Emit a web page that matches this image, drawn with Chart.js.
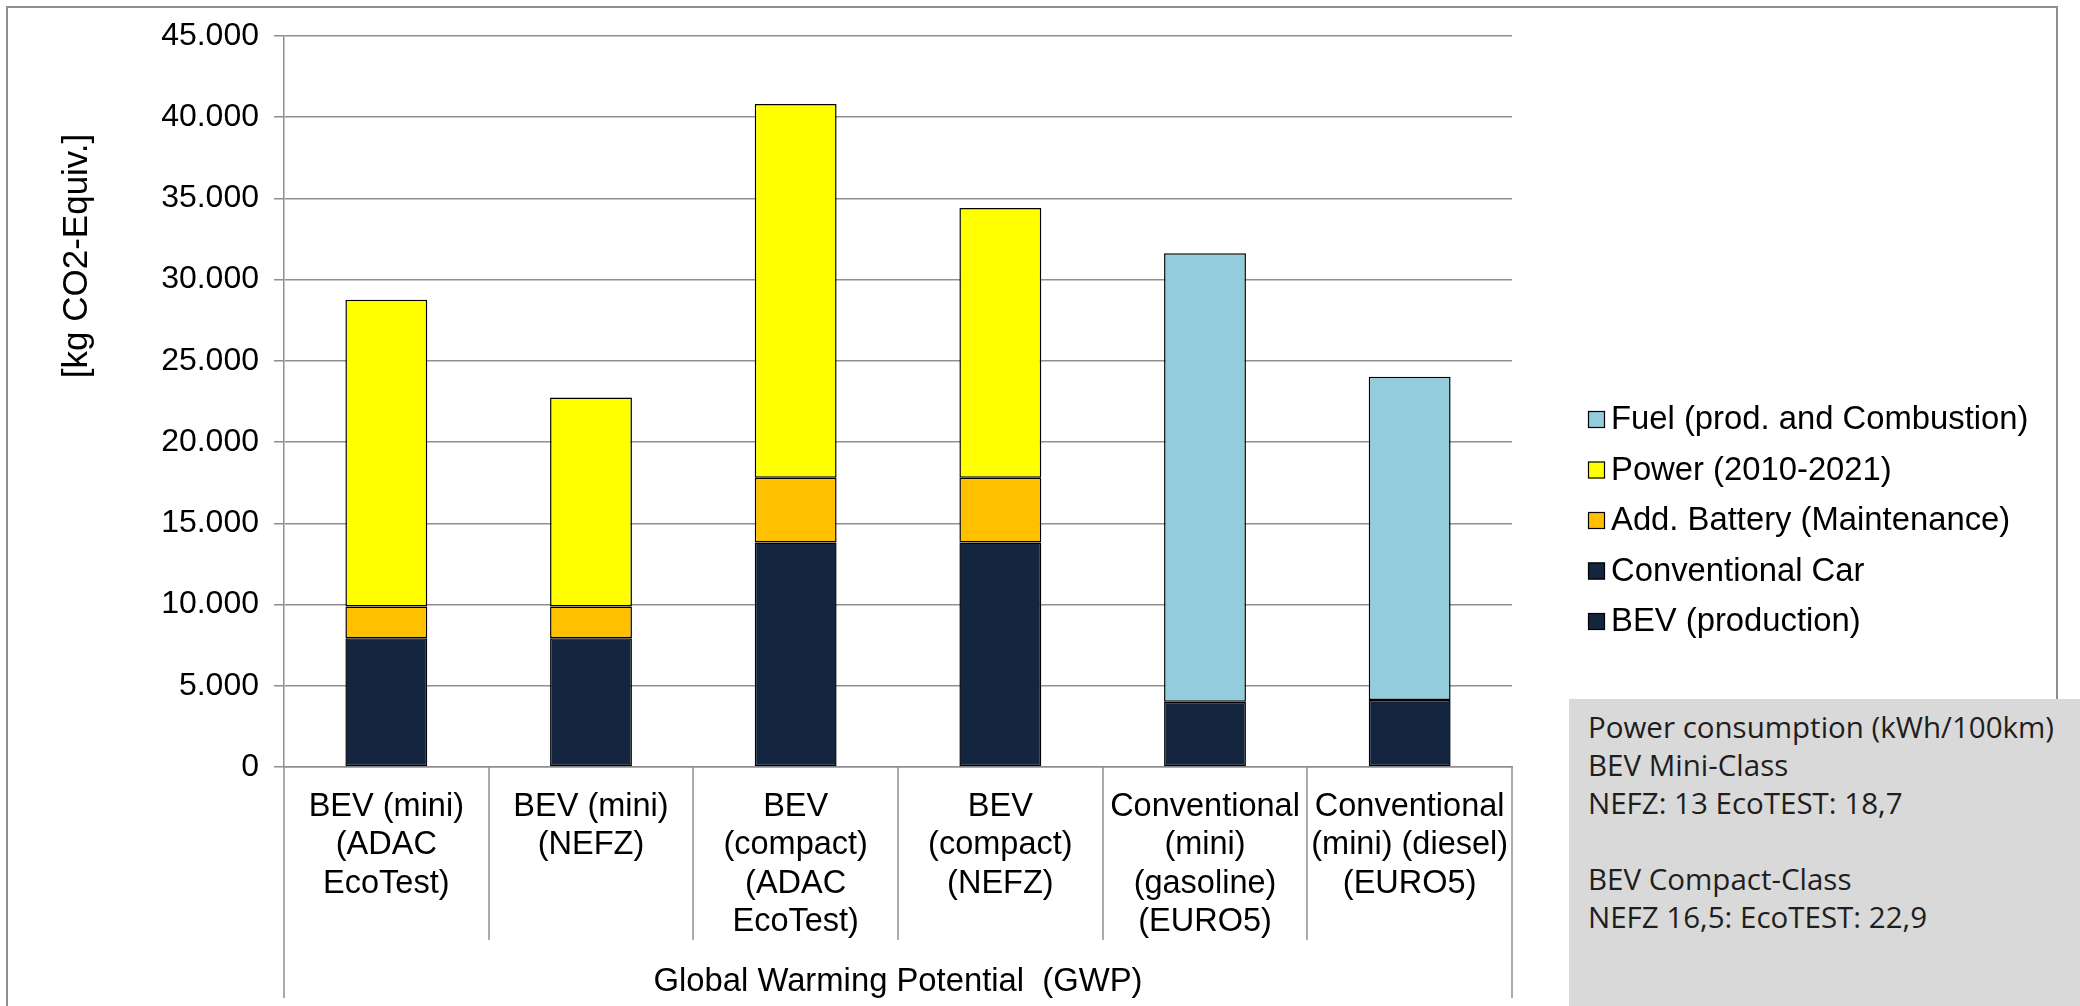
<!DOCTYPE html>
<html>
<head>
<meta charset="utf-8">
<title>GWP</title>
<script src="https://cdn.jsdelivr.net/npm/chart.js@4.4.1/dist/chart.umd.min.js"></script>
<style>
  body { margin: 0; background: #fff; }
  #wrap { position: relative; width: 2080px; height: 1006px; overflow: hidden; }
  #frame { position: absolute; left: 6px; top: 6px; width: 2048px; height: 1100px; border: 2px solid #8f8f8f; }
  #myChart { position: absolute; left: 0; top: 0; }
  #note {
    position: absolute; left: 1569px; top: 699px; width: 511px; height: 307px;
    background: #d9d9d9; box-sizing: border-box; padding: 9px 0 0 19px;
    font-family: 'Open Sans', sans-serif; font-size: 29.5px; line-height: 38px; color: #1e1e1e;
    white-space: pre;
  }
</style>
</head>
<body>
<div id="wrap">
  <div id="frame"></div>
  <canvas id="myChart" width="2080" height="1006"></canvas>
  <div id="note">Power consumption (kWh/100km)
BEV Mini-Class
NEFZ: 13 EcoTEST: 18,7

BEV Compact-Class
NEFZ 16,5: EcoTEST: 22,9</div>
</div>
<script>
// categories (wrapped the same way as the picture)
const categories = [
    ['BEV (mini)', '(ADAC', 'EcoTest)'],
    ['BEV (mini)', '(NEFZ)'],
    ['BEV', '(compact)', '(ADAC', 'EcoTest)'],
    ['BEV', '(compact)', '(NEFZ)'],
    ['Conventional', '(mini)', '(gasoline)', '(EURO5)'],
    ['Conventional', '(mini) (diesel)', '(EURO5)']
]

// series, kg CO2-Equiv.
const bevProduction   = [7930, 7930, 13820, 13820, null, null]
const conventionalCar = [null, null, null, null, 4020, 4120]
const addBattery      = [1950, 1950, 3990, 3990, null, null]
const power           = [18890, 12870, 23010, 16600, null, null]
const fuel            = [null, null, null, null, 27600, 19900]

// y axis
const yMax = 45000
const yStep = 5000
const yTitle = '[kg CO2-Equiv.]'
const xTitle = 'Global Warming Potential  (GWP)'

const navy = '#13253f'
const gridGray = '#8f8f8f'
const labelFont = '"Liberation Sans", Arial, sans-serif'

function dotted(v) {
    return String(v).replace(/\B(?=(\d{3})+(?!\d))/g, '.')
}

// category dividers, y title and the legend on the right
const decorations = {
    id: 'decorations',
    afterDraw(chart) {
        const ctx = chart.ctx
        const area = chart.chartArea
        const xs = chart.scales.x
        const step = (xs.right - xs.left) / categories.length

        ctx.save()
        ctx.strokeStyle = gridGray
        ctx.lineWidth = 1.5
        for (let i = 0; i <= categories.length; i++) {
            const x = Math.round(xs.left + i * step)
            const outer = i === 0 || i === categories.length
            ctx.beginPath()
            ctx.moveTo(x, area.bottom)
            ctx.lineTo(x, area.bottom + (outer ? 231 : 173))
            ctx.stroke()
        }
        ctx.restore()

        ctx.save()
        ctx.fillStyle = '#000'
        ctx.font = '35px ' + labelFont
        ctx.translate(area.left - 207, area.top + 220)
        ctx.rotate(-Math.PI / 2)
        ctx.textAlign = 'center'
        ctx.textBaseline = 'middle'
        ctx.fillText(yTitle, 0, 0)
        ctx.restore()

        ctx.save()
        const sets = chart.data.datasets.slice().reverse()
        let y = area.top + 383
        ctx.font = '32.8px ' + labelFont
        ctx.textBaseline = 'middle'
        sets.forEach(ds => {
            const bx = area.right + 76
            ctx.fillStyle = ds.backgroundColor
            ctx.fillRect(bx, y - 8, 17, 17)
            ctx.strokeStyle = '#000'
            ctx.lineWidth = 1.2
            ctx.strokeRect(bx + 0.5, y - 7.5, 16, 16)
            ctx.fillStyle = '#000'
            ctx.fillText(ds.label, bx + 23, y + 1)
            y += 50.5
        })
        ctx.restore()
    }
}

const ctx = document.querySelector('#myChart').getContext('2d')

let chart = new Chart(ctx, {
    type: 'bar',
    data: {
        labels: categories,
        datasets: [
            { label: 'BEV (production)', data: bevProduction, backgroundColor: navy },
            { label: 'Conventional Car', data: conventionalCar, backgroundColor: navy },
            { label: 'Add. Battery (Maintenance)', data: addBattery, backgroundColor: '#ffc000' },
            { label: 'Power (2010-2021)', data: power, backgroundColor: '#ffff00' },
            { label: 'Fuel (prod. and Combustion)', data: fuel, backgroundColor: '#93cddd' }
        ]
    },
    options: {
        responsive: false,
        animation: false,
        devicePixelRatio: 1,
        datasets: {
            bar: {
                barPercentage: 0.4,
                categoryPercentage: 1.0,
                borderColor: '#000',
                borderWidth: 1.5,
                borderSkipped: false
            }
        },
        layout: { padding: { left: 50, top: 36, right: 568, bottom: 0 } },
        plugins: {
            legend: { display: false },
            tooltip: { enabled: false }
        },
        scales: {
            x: {
                stacked: true,
                grid: { display: false, drawTicks: false },
                border: { display: true, color: gridGray, width: 1.5 },
                ticks: {
                    color: '#000',
                    font: { family: labelFont, size: 32.5, lineHeight: 1.18 },
                    maxRotation: 0,
                    autoSkip: false,
                    padding: 21
                },
                title: {
                    display: true,
                    text: xTitle,
                    color: '#000',
                    font: { family: labelFont, size: 32.8 },
                    padding: { top: 0, bottom: 4 }
                },
                afterFit(scale) { scale.height = 239 }
            },
            y: {
                stacked: true,
                min: 0,
                max: yMax,
                ticks: {
                    stepSize: yStep,
                    color: '#000',
                    font: { family: labelFont, size: 32 },
                    padding: 15,
                    callback: v => dotted(v)
                },
                grid: { color: gridGray, lineWidth: 1.5, tickLength: 10 },
                border: { color: gridGray, width: 1.5 },
                afterFit(scale) { scale.width = 234 }
            }
        }
    },
    plugins: [decorations]
})
</script>
</body>
</html>
